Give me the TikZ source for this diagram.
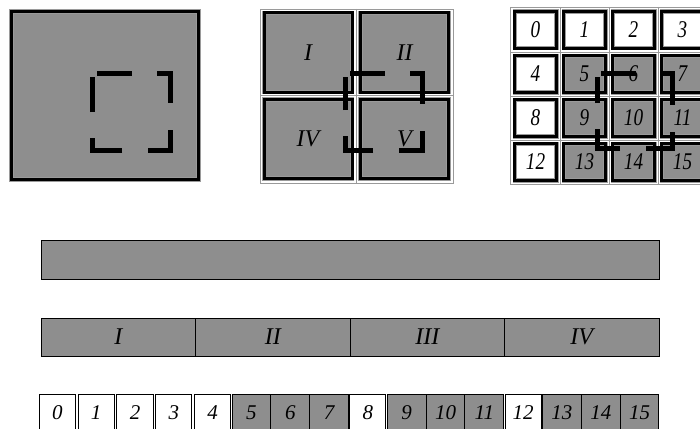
\documentclass[tikz,border=0pt]{standalone}
\usepackage{fontspec}
\setmainfont{Liberation Serif}
\definecolor{tilegray}{HTML}{8E8E8E}
\definecolor{rimgray}{HTML}{9A9A9A}
\tikzset{
  tile/.style={draw=rimgray, double=black, line width=0.8pt, double distance=3pt, fill=tilegray, inner sep=0pt},
  blank/.style={tile, fill=white},
  strip/.style={draw=black, line width=1pt, fill=tilegray, inner sep=0pt, minimum width=38.81pt},
  slot/.style={strip, fill=white, minimum width=36.2pt},
  rim/.style={draw=rimgray, line width=0.8pt},
  window/.style={line width=5pt, dash pattern=on 35pt off 25pt on 43pt off 27pt on 42pt off 26pt on 42pt off 26pt on 40pt off 20pt},
  roman/.style={font=\itshape\fontsize{24}{24}\selectfont},
  digit/.style={font=\itshape\fontsize{21}{21}\selectfont},
}
\begin{document}
\begin{tikzpicture}[x=1pt,y=-1pt]
\useasboundingbox (0,0) rectangle (700,428);
\clip (0,0) rectangle (700,428);

% one block
\node[tile, minimum width=187.4pt, minimum height=168.4pt] (whole) at (105,95.5) {};
\draw[window] (97,73) -- (170,73) -- (170,150) -- (92,150) -- (92,77);

% four blocks
\draw[rim] (260,9) rectangle (453,183) (356,9) -- (356,183) (260,95.5) -- (453,95.5);
\node[tile, roman, minimum width=88pt, minimum height=79pt] (q1) at (308,52.5) {I};
\node[tile, roman, minimum width=88pt, minimum height=79pt] (q2) at (404.5,52.5) {II};
\node[tile, roman, minimum width=88pt, minimum height=79pt] (q4) at (308,139) {IV};
\node[tile, roman, minimum width=88pt, minimum height=79pt] (q5) at (404.5,139) {V};
\draw[window] (350,73) -- (422,73) -- (422,150) -- (345,150) -- (345,77);

% sixteen blocks
\draw[rim] (510,7) rectangle (712,184);
\foreach \x in {560,609,658} \draw[rim] (\x,7) -- (\x,184);
\foreach \y in {52,96,140} \draw[rim] (510,\y) -- (712,\y);
\foreach \n/\s in {0/blank,1/blank,2/blank,3/blank,4/blank,5/tile,6/tile,7/tile,
                   8/blank,9/tile,10/tile,11/tile,12/blank,13/tile,14/tile,15/tile}{
  \pgfmathtruncatemacro{\col}{mod(\n,4)}
  \pgfmathtruncatemacro{\row}{div(\n,4)}
  \node[\s, roman, minimum width=41.4pt, minimum height=36.4pt] (g\n)
    at ({535.5+49*\col},{30+44*\row}) {\scalebox{0.8}[1]{\n}};
}
\draw[window] (601,73) -- (672,73) -- (672,148) -- (597,148) -- (597,77);

% bars
\node[strip, minimum width=618pt, minimum height=39pt] (full) at (350,259.5) {};
\foreach \r [count=\i from 0] in {I,II,III,IV}
  \node[strip, roman, minimum width=154.5pt, minimum height=38pt] (part\i) at ({118.25+154.5*\i},337) {\r};
\foreach \n/\s in {0/slot,1/slot,2/slot,3/slot,4/slot,5/strip,6/strip,7/strip,
                   8/slot,9/strip,10/strip,11/strip,12/slot,13/strip,14/strip,15/strip}
  \node[\s, digit, minimum height=38pt] (b\n) at ({57.4+38.81*\n},413) {\n};
\end{tikzpicture}
\end{document}
